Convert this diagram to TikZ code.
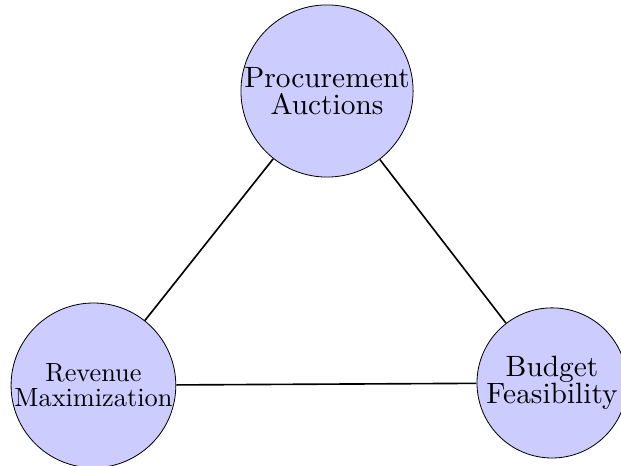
\documentclass[tikz,border=0pt]{standalone}
\usepackage{tikz}

\tikzset{
  topic/.style={circle, draw, fill=blue!20, inner sep=-20pt, align=center,
    font=\fontsize{10}{9.1}\selectfont},
}

\begin{document}
\begin{tikzpicture}[x=1pt, y=1pt]
  \useasboundingbox (0, 0) rectangle (304.4, 228.4);
  % the three topics, text kept at 10pt and the node blown up
  \node[topic, scale=1.44, minimum size=58.6pt] (auct) at (160.3, 183.8) {Procurement\\Auctions};
  \node[topic, scale=1.29, minimum size=62.6pt, font=\fontsize{10}{9.5}\selectfont] (rev) at (45.8, 39.5) {Revenue\\Maximization};
  \node[topic, scale=1.44, minimum size=51.1pt] (budg) at (270.6, 40.7) {Budget\\Feasibility};
  % edges of the triangle
  \draw[thick] (auct) -- (rev);
  \draw[thick] (auct) -- (budg);
  \draw[thick] (rev) -- (budg);
\end{tikzpicture}
\end{document}
